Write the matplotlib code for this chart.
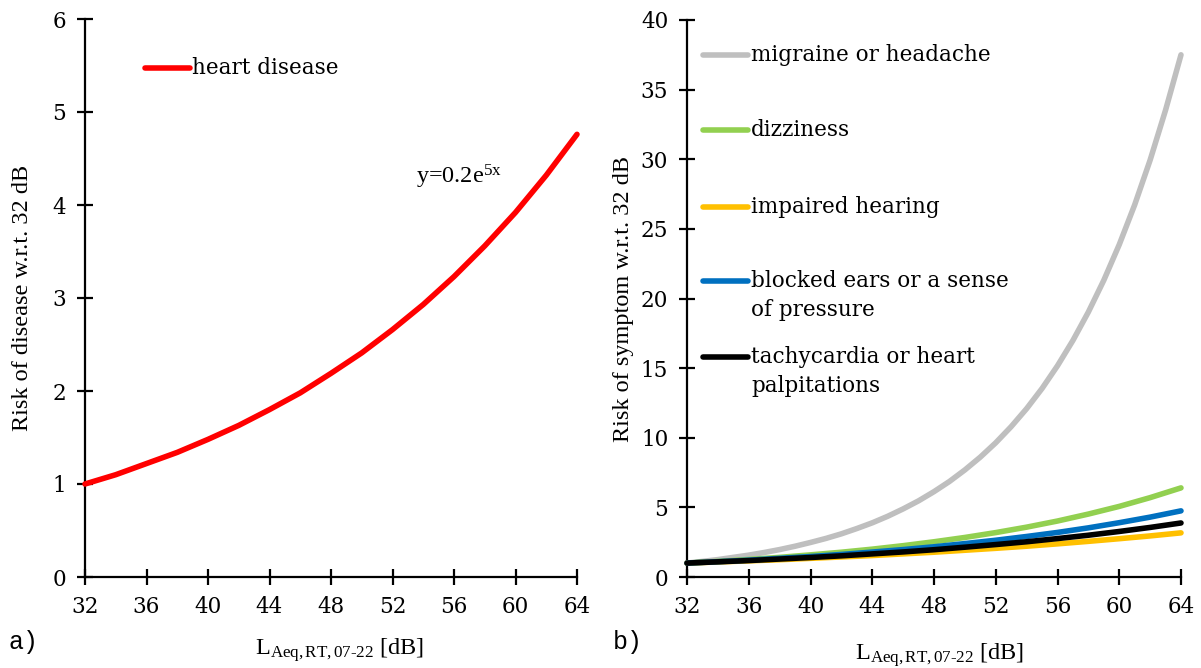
import matplotlib
matplotlib.use("Agg")
import matplotlib.pyplot as plt
from matplotlib.lines import Line2D

plt.rcParams['mathtext.fontset'] = 'custom'
plt.rcParams['mathtext.rm'] = 'Liberation Serif'
plt.rcParams['mathtext.it'] = 'Liberation Serif:italic'
plt.rcParams['mathtext.default'] = 'rm'

# ---------------- data ----------------
level_db = [32, 34, 36, 38, 40, 42, 44, 46, 48, 50, 52, 54, 56, 58, 60, 62, 64]
level_db_fine = list(range(32, 65))

heart_disease = [1.00, 1.10, 1.22, 1.34, 1.48, 1.63, 1.80, 1.98, 2.19, 2.41,
                 2.66, 2.93, 3.23, 3.56, 3.92, 4.32, 4.76]

migraine = [1.00, 1.12, 1.25, 1.41, 1.57, 1.76, 1.97, 2.21, 2.48, 2.77,
            3.10, 3.48, 3.89, 4.36, 4.89, 5.47, 6.13, 6.86, 7.69, 8.61,
            9.64, 10.80, 12.09, 13.54, 15.17, 16.99, 19.03, 21.31, 23.87,
            26.73, 29.94, 33.53, 37.5]
dizziness = [1.00, 1.12, 1.26, 1.41, 1.59, 1.78, 2.00, 2.25, 2.53, 2.84,
             3.19, 3.58, 4.02, 4.52, 5.07, 5.70, 6.40]
impaired_hearing = [1.00, 1.08, 1.16, 1.24, 1.34, 1.44, 1.54, 1.66, 1.78, 1.92,
                    2.06, 2.21, 2.38, 2.56, 2.75, 2.95, 3.17]
blocked_ears = [1.00, 1.10, 1.21, 1.34, 1.47, 1.62, 1.79, 1.97, 2.17, 2.40,
                2.64, 2.91, 3.20, 3.53, 3.90, 4.30, 4.75]
tachycardia = [1.00, 1.09, 1.18, 1.29, 1.40, 1.52, 1.66, 1.80, 1.96, 2.14,
               2.33, 2.53, 2.76, 3.00, 3.27, 3.56, 3.88]

x_ticks = [32, 36, 40, 44, 48, 52, 56, 60, 64]
left_yticks = [0, 1, 2, 3, 4, 5, 6]
right_yticks = [0, 5, 10, 15, 20, 25, 30, 35, 40]

left_label = "heart disease"
right_labels = ["migraine or headache", "dizziness", "impaired hearing",
                "blocked ears or a sense\nof pressure",
                "tachycardia or heart\npalpitations"]
right_series = [migraine, dizziness, impaired_hearing, blocked_ears, tachycardia]
right_x = [level_db_fine, level_db, level_db, level_db, level_db]
right_colors = ["#BFBFBF", "#92D050", "#FFC000", "#0070C0", "#000000"]

# ---------------- figure ----------------
fig = plt.figure(figsize=(12.01, 6.68), dpi=100)
axL = fig.add_axes([85/1201, 91/668, 492/1201, 558/668])
axR = fig.add_axes([687/1201, 91/668, 494/1201, 557/668])

tick_font = dict(family='DejaVu Serif', size=15.5)
label_font = dict(family='Liberation Serif', size=17.5)
legend_size = 15.5

def style(ax, yticks, ylim):
    for s in ['top', 'right']:
        ax.spines[s].set_visible(False)
    for s in ['left', 'bottom']:
        ax.spines[s].set_linewidth(1.6)
    ax.set_xlim(32, 64)
    ax.set_ylim(*ylim)
    ax.set_xticks(x_ticks)
    ax.set_yticks(yticks)
    ax.tick_params(direction='inout', length=11, width=1.6, pad=8)
    ax.set_xticklabels([str(v) for v in x_ticks], fontdict=tick_font)
    ax.set_yticklabels([str(v) for v in yticks], fontdict=tick_font)

style(axL, left_yticks, (0, 6))
style(axR, right_yticks, (0, 40))

# left panel
axL.plot(level_db, heart_disease, color='#FF0000', lw=4, solid_capstyle='round',
         clip_on=False, zorder=3)
axL.add_line(Line2D([0.122, 0.213], [0.912, 0.912], transform=axL.transAxes,
                    color='#FF0000', lw=4, solid_capstyle='round'))
axL.text(0.2175, 0.912, left_label, transform=axL.transAxes, va='center',
         ha='left', family='DejaVu Serif', size=legend_size)
axL.text(53.5, 4.3, r'y=0.2e$^{5x}$', family='Liberation Serif', size=17.5,
         va='center', ha='left')
axL.set_ylabel('Risk of disease w.r.t. 32 dB', fontdict=label_font, labelpad=14)

# right panel
for xs, vals, col in zip(right_x, right_series, right_colors):
    axR.plot(xs, vals, color=col, lw=4, solid_capstyle='round',
             clip_on=False, zorder=3)

leg_y = [0.937, 0.8025, 0.664, 0.531, 0.395]
line_pitch = 29 / 557
for lab, col, yy in zip(right_labels, right_colors, leg_y):
    axR.add_line(Line2D([0.032, 0.123], [yy, yy], transform=axR.transAxes,
                        color=col, lw=4, solid_capstyle='round'))
    for i, part in enumerate(lab.split('\n')):
        axR.text(0.13, yy - i * line_pitch, part, transform=axR.transAxes,
                 va='center', ha='left', family='DejaVu Serif', size=legend_size)
axR.set_ylabel('Risk of symptom w.r.t. 32 dB', fontdict=label_font, labelpad=5)

# x labels
xlab = r'L$_{\mathregular{Aeq,RT,07‐22}}$ [dB]'
fig.text(340/1201, 1 - 650/668, xlab, family='Liberation Serif', size=17.5,
         ha='center', va='center')
fig.text(940/1201, 1 - 655/668, xlab, family='Liberation Serif', size=17.5,
         ha='center', va='center')

fig.text(8/1201, 1 - 642/668, 'a)', family='Liberation Mono', size=18,
         ha='left', va='center')
fig.text(613/1201, 1 - 642/668, 'b)', family='Liberation Mono', size=18,
         ha='left', va='center')

fig.savefig('out.png', dpi=100, facecolor='white')
